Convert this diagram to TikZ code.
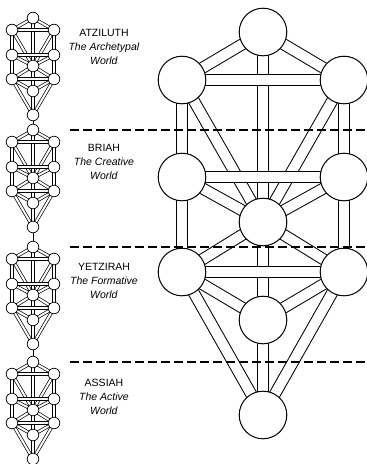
\documentclass[tikz,border=0pt]{standalone}
\usepackage{fontspec}
\setmainfont{Liberation Sans}
\usetikzlibrary{backgrounds}

% tree of ten circles and twenty-two double paths
% #1 name, #2 x, #3 y of top circle, #4 scale, #5 radius, #6 path gap, #7 rule width
\newcommand{\treeoflife}[7]{%
    \foreach \sname/\sx/\sy in {kether/0/0, chokmah/81/48, binah/-81/48,
        chesed/81/145, geburah/-81/145, tiphareth/0/190, netzach/81/240,
        hod/-81/240, yesod/0/288, malkuth/0/383}
        \node [sephira, minimum size = 2*#5, line width = #7]
            (#1-\sname) at ({round(#2+#4*\sx)}, {round(#3+#4*\sy)}) {};
    \begin{scope}[on background layer]
        \foreach \a/\b in {kether/tiphareth, tiphareth/yesod, kether/chokmah,
            kether/binah, chokmah/tiphareth, binah/tiphareth, chokmah/chesed,
            binah/geburah, chesed/tiphareth, geburah/tiphareth, chesed/netzach,
            geburah/hod, tiphareth/netzach, tiphareth/hod, netzach/yesod,
            hod/yesod, netzach/malkuth, hod/malkuth, yesod/malkuth,
            chokmah/binah, chesed/geburah, netzach/hod}
            \draw [channel, double distance = #6, line width = #7]
                (#1-\a) -- (#1-\b);
    \end{scope}
}

\begin{document}
\begin{tikzpicture}[
    x = 1pt,
    y = -1pt,
    sephira/.style = {
        circle,
        inner sep = 0pt,
        draw = black,
        fill = white
    },
    channel/.style = {
        double = white,
        draw = black,
        shorten < = -4pt,
        shorten > = -4pt
    },
    ladder/.style = {
        draw = black,
        line width = 0.7pt
    },
    divider/.style = {
        draw = black,
        line width = 1.1pt,
        dash pattern = on 9pt off 4pt
    },
    world/.style = {
        align = center,
        font = \fontsize{10.5}{14}\selectfont
    }
]

    \useasboundingbox (0,0) rectangle (367,464);

    % Large tree (right)
    \treeoflife{main}{263}{32}{1}{23.8}{10pt}{1pt}

    % Small trees (left column)
    \treeoflife{atz}{33}{18}{0.2533}{5.8}{2pt}{0.7pt}
    \treeoflife{bri}{33}{130}{0.2533}{5.8}{2pt}{0.7pt}
    \treeoflife{yet}{33}{247}{0.2533}{5.8}{2pt}{0.7pt}
    \treeoflife{ass}{33}{362}{0.2533}{5.8}{2pt}{0.7pt}

    % Links between the small trees
    \draw [ladder] (atz-malkuth) -- (bri-kether);
    \draw [ladder] (bri-malkuth) -- (yet-kether);
    \draw [ladder] (yet-malkuth) -- (ass-kether);

    % World borders
    \draw [divider] (70,130) -- (367,130);
    \draw [divider] (70,247) -- (367,247);
    \draw [divider] (70,362) -- (367,362);

    % World names
    \node [world] (atziluth) at (104,47) {ATZILUTH\\\textit{The Archetypal}\\\textit{World}};
    \node [world] (briah) at (104,162) {BRIAH\\\textit{The Creative}\\\textit{World}};
    \node [world] (yetzirah) at (104,281) {YETZIRAH\\\textit{The Formative}\\\textit{World}};
    \node [world] (assiah) at (104,397) {ASSIAH\\\textit{The Active}\\\textit{World}};

\end{tikzpicture}
\end{document}
